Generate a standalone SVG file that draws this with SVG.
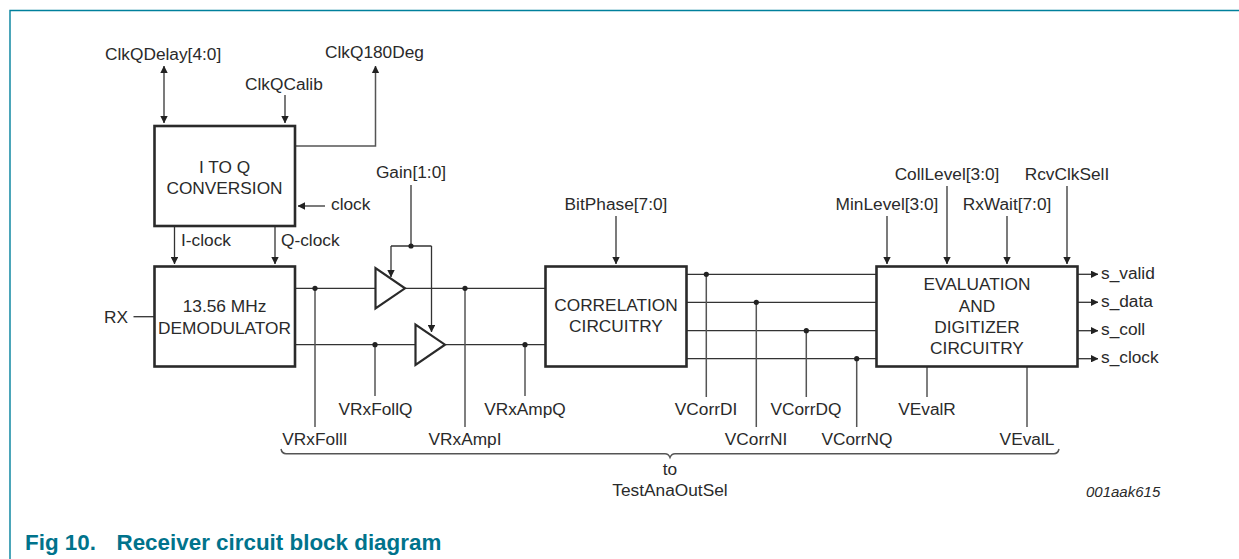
<svg xmlns="http://www.w3.org/2000/svg" width="1239" height="559" viewBox="0 0 1239 559">
<style>
text{font-family:"Liberation Sans",Arial,sans-serif;font-size:17.300px;fill:#2a2a2a}
.m{text-anchor:middle}
.b{fill:#fff;stroke:#2a2a2a;stroke-width:2.6}
.w{fill:none;stroke:#333;stroke-width:1.3}
.g{fill:none;stroke:#555;stroke-width:1.5}
.t{fill:#fff;stroke:#2a2a2a;stroke-width:2.2}
.d{fill:#222}
.f{fill:none;stroke:#00809c;stroke-width:1.4}
.c{font-weight:bold;font-size:22.400px;fill:#00738c}
.n{font-style:italic;font-size:15px}
</style>
<defs>
<marker id="a" viewBox="0 0 10 10" refX="9.500" refY="5" markerWidth="7.500" markerHeight="7.500" markerUnits="userSpaceOnUse" orient="auto-start-reverse"><path d="M0 0L10 5L0 10Z" fill="#222"/></marker>
</defs>
<path class="f" d="M10 559V10.500H1239"/>
<g id="connectors">
<path class="w" d="M164 66V123" marker-start="url(#a)" marker-end="url(#a)"/>
<path class="w" d="M285 95V123" marker-end="url(#a)"/>
<path class="g" d="M295 146H375.500V66" marker-end="url(#a)"/>
<path class="w" d="M325 206H298" marker-end="url(#a)"/>
<path class="w" d="M174.500 226V264" marker-end="url(#a)"/>
<path class="w" d="M275 226V264" marker-end="url(#a)"/>
<path class="w" d="M133.500 316.700H154"/>
<path class="w" d="M295 288.300H375M405 288.300H545"/>
<path class="w" d="M295 344.700H415M446 344.700H545"/>
<path class="w" d="M411 185V246"/>
<path class="w" d="M391 246H431.500"/>
<path class="w" d="M391 246V277" marker-end="url(#a)"/>
<path class="w" d="M431.500 246V332" marker-end="url(#a)"/>
<path class="g" d="M315 288V427M375 345V396M465 288V427M525 345V396"/>
<path class="w" d="M616 216V264" marker-end="url(#a)"/>
<path class="w" d="M687 274.300H876M687 302.300H876M687 330.700H876M687 358.700H876"/>
<path class="g" d="M706.300 274V397M756.300 302V427M806.300 331V397M856.700 359V427"/>
<path class="w" d="M887 216V264" marker-end="url(#a)"/>
<path class="w" d="M947 186V264" marker-end="url(#a)"/>
<path class="w" d="M1007 216V264" marker-end="url(#a)"/>
<path class="w" d="M1067 186V264" marker-end="url(#a)"/>
<path class="w" d="M1078 274.300H1098" marker-end="url(#a)"/>
<path class="w" d="M1078 302.300H1098" marker-end="url(#a)"/>
<path class="w" d="M1078 330.700H1098" marker-end="url(#a)"/>
<path class="w" d="M1078 358.700H1098" marker-end="url(#a)"/>
<path class="g" d="M927 367V397M1027 367V427"/>
<path class="g" d="M281 449Q282 453.700 286 453.700H665Q668.500 453.700 670 457.500Q671.500 453.700 675 453.700H1054Q1058 453.700 1059 449"/>
<g class="d">
<circle cx="411" cy="246" r="2.600"/>
<circle cx="315" cy="288.300" r="2.600"/><circle cx="375" cy="344.700" r="2.600"/><circle cx="465" cy="288.300" r="2.600"/><circle cx="525" cy="344.700" r="2.600"/>
<circle cx="706.300" cy="274.300" r="2.600"/><circle cx="756.300" cy="302.300" r="2.600"/><circle cx="806.300" cy="330.700" r="2.600"/><circle cx="856.700" cy="358.700" r="2.600"/>
</g>
</g>
<g id="iq"><rect class="b" x="154.500" y="126" width="140.500" height="100"/><text class="m" x="224.500" y="173">I TO Q</text><text class="m" x="224.500" y="194">CONVERSION</text></g>
<g id="demod"><rect class="b" x="154.500" y="266.500" width="140.500" height="100"/><text class="m" x="224.500" y="312">13.56 MHz</text><text class="m" x="224.500" y="334">DEMODULATOR</text></g>
<g id="amp1"><path class="t" d="M375.500 268V308.500L405 288.300Z"/></g>
<g id="amp2"><path class="t" d="M415.500 324.500V365L445 344.700Z"/></g>
<g id="corr"><rect class="b" x="545.500" y="266.500" width="141" height="100"/><text class="m" x="616" y="311">CORRELATION</text><text class="m" x="616" y="332">CIRCUITRY</text></g>
<g id="eval"><rect class="b" x="876.500" y="266.500" width="201" height="100"/><text class="m" x="977" y="290">EVALUATION</text><text class="m" x="977" y="312">AND</text><text class="m" x="977" y="333">DIGITIZER</text><text class="m" x="977" y="354">CIRCUITRY</text></g>
<g id="labels">
<text x="105" y="60">ClkQDelay[4:0]</text>
<text x="325" y="58">ClkQ180Deg</text>
<text x="245" y="90">ClkQCalib</text>
<text x="331" y="210">clock</text>
<text x="181" y="246">I-clock</text>
<text x="281" y="246">Q-clock</text>
<text class="m" x="411" y="178">Gain[1:0]</text>
<text x="104" y="323">RX</text>
<text class="m" x="375.500" y="415">VRxFollQ</text>
<text class="m" x="315" y="445">VRxFollI</text>
<text class="m" x="465" y="445">VRxAmpI</text>
<text class="m" x="525" y="415">VRxAmpQ</text>
<text class="m" x="616" y="210">BitPhase[7:0]</text>
<text class="m" x="706" y="415">VCorrDI</text>
<text class="m" x="756" y="445">VCorrNI</text>
<text class="m" x="806" y="415">VCorrDQ</text>
<text class="m" x="857" y="445">VCorrNQ</text>
<text class="m" x="887" y="210">MinLevel[3:0]</text>
<text class="m" x="947" y="180">CollLevel[3:0]</text>
<text class="m" x="1007" y="210">RxWait[7:0]</text>
<text class="m" x="1067" y="180">RcvClkSelI</text>
<text x="1101" y="278.500">s_valid</text>
<text x="1101" y="306.500">s_data</text>
<text x="1101" y="335">s_coll</text>
<text x="1101" y="363">s_clock</text>
<text class="m" x="927" y="415">VEvalR</text>
<text class="m" x="1027" y="445">VEvalL</text>
<text class="m" x="670" y="475">to</text>
<text class="m" x="670" y="496">TestAnaOutSel</text>
<text class="n" x="1086" y="496.500">001aak615</text>
<text class="c" x="25" y="550">Fig 10.</text>
<text class="c" x="116.500" y="550">Receiver circuit block diagram</text>
</g>
</svg>
